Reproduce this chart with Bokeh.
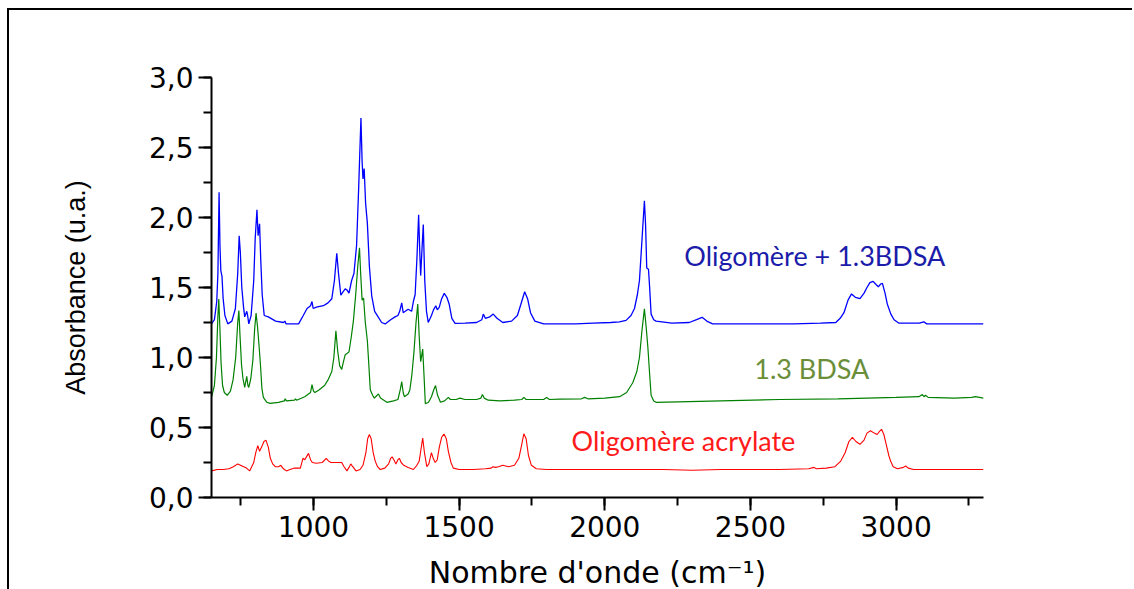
from bokeh.plotting import figure
from bokeh.models import Range1d, SingleIntervalTicker, CustomJSTickFormatter, Label
from bokeh.embed import file_html
from bokeh.resources import INLINE

# ---- data ----
blue_x = [650, 660, 668, 672, 676, 679, 682, 686, 690, 696, 706, 720, 732, 740, 745, 749, 754, 760, 764, 771,
          774, 778, 786, 795, 800, 806, 810, 815, 819, 824, 831, 845, 870, 897, 902, 906, 949, 965, 978, 990,
          995, 999, 1010, 1034, 1050, 1063, 1072, 1080, 1086, 1094, 1102, 1109, 1116, 1122, 1131, 1139, 1148,
          1155, 1163, 1167, 1170, 1174, 1179, 1185, 1192, 1200, 1210, 1222, 1234, 1246, 1265, 1280, 1290, 1296,
          1303, 1308, 1315, 1325, 1337, 1343, 1349, 1355, 1361, 1365, 1368, 1372, 1377, 1382, 1388, 1394, 1405,
          1412, 1420, 1425, 1432, 1440, 1449, 1458, 1466, 1475, 1486, 1520, 1560, 1578, 1583, 1590, 1605, 1617,
          1630, 1650, 1680, 1700, 1712, 1725, 1735, 1745, 1760, 1790, 1845, 1900, 1960, 2020, 2050, 2073, 2090,
          2102, 2112, 2119, 2128, 2136, 2140, 2144, 2150, 2154, 2159, 2168, 2176, 2230, 2290, 2315, 2334, 2350,
          2370, 2500, 2650, 2740, 2793, 2808, 2821, 2835, 2847, 2860, 2876, 2890, 2900, 2910, 2921, 2932, 2939,
          2947, 2953, 2962, 2970, 2982, 2993, 3010, 3080, 3095, 3105, 3200, 3300]
blue_y = [1.24, 1.27, 1.40, 1.60, 2.18, 1.80, 1.62, 1.58, 1.42, 1.30, 1.24, 1.26, 1.35, 1.60, 1.87, 1.75, 1.50,
          1.36, 1.29, 1.33, 1.30, 1.24, 1.30, 1.55, 1.85, 2.055, 1.87, 1.955, 1.70, 1.45, 1.30, 1.29, 1.26, 1.25,
          1.26, 1.24, 1.24, 1.30, 1.35, 1.37, 1.40, 1.35, 1.36, 1.37, 1.39, 1.42, 1.55, 1.745, 1.60, 1.445, 1.47,
          1.49, 1.48, 1.46, 1.55, 1.60, 1.80, 2.20, 2.71, 2.40, 2.275, 2.35, 2.10, 1.96, 1.65, 1.44, 1.33, 1.29,
          1.25, 1.24, 1.27, 1.29, 1.30, 1.33, 1.39, 1.32, 1.33, 1.345, 1.33, 1.40, 1.45, 1.70, 2.02, 1.75, 1.585,
          1.75, 1.95, 1.55, 1.33, 1.25, 1.30, 1.34, 1.37, 1.34, 1.36, 1.42, 1.458, 1.43, 1.38, 1.28, 1.244, 1.245,
          1.25, 1.27, 1.31, 1.28, 1.29, 1.31, 1.28, 1.25, 1.26, 1.30, 1.38, 1.47, 1.42, 1.32, 1.26, 1.24, 1.24,
          1.24, 1.245, 1.25, 1.255, 1.265, 1.30, 1.35, 1.45, 1.55, 1.85, 2.12, 1.95, 1.64, 1.63, 1.50, 1.31, 1.27,
          1.26, 1.245, 1.25, 1.27, 1.287, 1.26, 1.24, 1.24, 1.24, 1.245, 1.25, 1.28, 1.32, 1.41, 1.454, 1.43, 1.42,
          1.46, 1.50, 1.535, 1.544, 1.52, 1.505, 1.525, 1.53, 1.46, 1.38, 1.31, 1.27, 1.245, 1.245, 1.255, 1.24,
          1.24, 1.24]

green_x = [650, 660, 667, 672, 675, 679, 683, 688, 694, 704, 715, 724, 733, 740, 744, 748, 753, 758, 764, 771,
           775, 778, 785, 792, 798, 803, 808, 813, 818, 823, 828, 840, 851, 880, 900, 903, 907, 935, 938, 942,
           970, 990, 995, 1000, 1005, 1020, 1038, 1050, 1063, 1070, 1077, 1083, 1090, 1097, 1103, 1109, 1116,
           1122, 1130, 1137, 1145, 1152, 1158, 1162, 1167, 1172, 1178, 1185, 1190, 1195, 1203, 1209, 1216, 1223,
           1230, 1252, 1275, 1290, 1298, 1303, 1308, 1312, 1325, 1331, 1338, 1345, 1352, 1358, 1363, 1368, 1372,
           1375, 1380, 1384, 1395, 1405, 1413, 1419, 1426, 1436, 1450, 1463, 1470, 1490, 1503, 1520, 1560, 1575,
           1580, 1586, 1600, 1640, 1690, 1715, 1722, 1730, 1790, 1800, 1810, 1845, 1920, 1931, 1942, 2000, 2051,
           2075, 2096, 2110, 2119, 2128, 2136, 2142, 2148, 2154, 2159, 2168, 2176, 2400, 2600, 2800, 3000, 3078,
           3090, 3096, 3101, 3110, 3200, 3260, 3272, 3300]
green_y = [0.715, 0.80, 1.00, 1.30, 1.418, 1.20, 0.953, 0.80, 0.75, 0.73, 0.76, 0.84, 1.00, 1.25, 1.335, 1.15,
           0.95, 0.85, 0.786, 0.866, 0.80, 0.786, 0.85, 0.98, 1.20, 1.318, 1.22, 1.09, 0.95, 0.78, 0.715, 0.68,
           0.672, 0.68, 0.69, 0.705, 0.69, 0.695, 0.705, 0.695, 0.72, 0.75, 0.806, 0.76, 0.75, 0.77, 0.80, 0.84,
           0.90, 1.00, 1.19, 1.05, 0.94, 0.915, 0.97, 1.02, 1.03, 1.04, 1.15, 1.26, 1.45, 1.65, 1.783, 1.60, 1.41,
           1.425, 1.25, 1.12, 0.95, 0.77, 0.73, 0.71, 0.725, 0.74, 0.71, 0.68, 0.69, 0.70, 0.77, 0.827, 0.75, 0.72,
           0.74, 0.77, 0.88, 1.04, 1.25, 1.382, 1.15, 0.97, 1.02, 1.06, 0.85, 0.67, 0.68, 0.72, 0.77, 0.80, 0.73,
           0.68, 0.69, 0.715, 0.70, 0.70, 0.71, 0.70, 0.70, 0.71, 0.735, 0.71, 0.695, 0.69, 0.695, 0.70, 0.715,
           0.70, 0.70, 0.715, 0.70, 0.703, 0.705, 0.715, 0.705, 0.71, 0.72, 0.75, 0.82, 0.90, 1.00, 1.20, 1.347,
           1.22, 1.07, 0.88, 0.73, 0.69, 0.68, 0.69, 0.70, 0.705, 0.715, 0.72, 0.735, 0.72, 0.73, 0.715, 0.71,
           0.715, 0.72, 0.71]

red_x = [650, 670, 690, 710, 725, 740, 755, 770, 781, 795, 802, 809, 815, 822, 830, 837, 845, 852, 860, 869, 880,
         888, 897, 907, 920, 935, 955, 964, 970, 976, 983, 990, 996, 1010, 1030, 1044, 1052, 1060, 1080, 1097,
         1105, 1115, 1122, 1128, 1135, 1146, 1160, 1170, 1180, 1186, 1192, 1198, 1205, 1212, 1220, 1229, 1245,
         1258, 1265, 1270, 1276, 1283, 1290, 1295, 1301, 1310, 1325, 1343, 1355, 1363, 1368, 1375, 1381, 1389,
         1396, 1405, 1411, 1418, 1425, 1432, 1440, 1448, 1456, 1463, 1472, 1480, 1500, 1550, 1590, 1610, 1616,
         1625, 1635, 1650, 1660, 1670, 1690, 1705, 1715, 1722, 1730, 1738, 1748, 1765, 1800, 1900, 2000, 2100,
         2200, 2300, 2400, 2500, 2600, 2700, 2718, 2726, 2760, 2790, 2810, 2825, 2838, 2850, 2862, 2876, 2890,
         2900, 2912, 2925, 2935, 2942, 2950, 2958, 2966, 2975, 2981, 2990, 3005, 3025, 3033, 3042, 3060, 3200,
         3300]
red_y = [0.19, 0.20, 0.20, 0.205, 0.22, 0.24, 0.225, 0.21, 0.19, 0.25, 0.32, 0.37, 0.33, 0.36, 0.40, 0.41, 0.36,
         0.28, 0.24, 0.22, 0.22, 0.23, 0.205, 0.19, 0.20, 0.21, 0.21, 0.28, 0.27, 0.29, 0.315, 0.27, 0.25, 0.245,
         0.25, 0.28, 0.26, 0.25, 0.25, 0.25, 0.22, 0.19, 0.215, 0.24, 0.22, 0.19, 0.20, 0.23, 0.32, 0.42, 0.45,
         0.42, 0.32, 0.26, 0.22, 0.20, 0.21, 0.24, 0.28, 0.29, 0.27, 0.24, 0.27, 0.28, 0.25, 0.23, 0.215, 0.20,
         0.23, 0.26, 0.33, 0.425, 0.32, 0.22, 0.24, 0.32, 0.28, 0.25, 0.27, 0.36, 0.43, 0.453, 0.42, 0.33, 0.25,
         0.21, 0.20, 0.20, 0.205, 0.21, 0.22, 0.215, 0.22, 0.23, 0.225, 0.22, 0.23, 0.28, 0.38, 0.455, 0.42, 0.30,
         0.23, 0.205, 0.20, 0.20, 0.20, 0.20, 0.20, 0.195, 0.20, 0.20, 0.20, 0.205, 0.215, 0.205, 0.21, 0.22, 0.26,
         0.32, 0.40, 0.43, 0.40, 0.38, 0.41, 0.46, 0.477, 0.46, 0.45, 0.47, 0.487, 0.45, 0.38, 0.30, 0.26, 0.22,
         0.205, 0.215, 0.225, 0.21, 0.20, 0.20, 0.20]

series_names = ["Oligomère + 1.3BDSA", "1.3 BDSA", "Oligomère acrylate"]
x_label = "Nombre d'onde (cm⁻¹)"
y_label = "Absorbance (u.a.)"

# ---- figure ----
p = figure(width=1125, height=590, output_backend="svg", toolbar_location=None,
           x_range=Range1d(650, 3300), y_range=Range1d(0, 3.0),
           min_border_left=202, min_border_right=151, min_border_top=67, min_border_bottom=103,
           styles={"border-top": "2px solid #000", "border-left": "2px solid #000",
                   "margin-top": "8px", "margin-left": "7px"})
p.outline_line_color = None
p.xgrid.visible = False
p.ygrid.visible = False
p.background_fill_color = "white"
p.border_fill_color = "white"

p.line(blue_x, blue_y, line_color="#0000ff", line_width=1.3)
p.line(green_x, green_y, line_color="#008000", line_width=1.2)
p.line(red_x, red_y, line_color="#ff0000", line_width=1.1)

for ax in (p.xaxis[0], p.yaxis[0]):
    ax.axis_line_width = 2
    ax.axis_line_color = "black"
    ax.major_tick_line_width = 2
    ax.minor_tick_line_width = 2
    ax.major_tick_out = 13
    ax.major_tick_in = 0
    ax.minor_tick_out = 8
    ax.minor_tick_in = 0
    ax.major_label_text_font = "DejaVu Sans"
    ax.major_label_text_font_size = "28px"
    ax.major_label_text_color = "black"
    ax.major_label_standoff = 5
    ax.axis_label_text_font_style = "normal"
    ax.axis_label_text_color = "black"

p.xaxis[0].ticker = SingleIntervalTicker(interval=500, num_minor_ticks=2)
p.yaxis[0].ticker = SingleIntervalTicker(interval=0.5, num_minor_ticks=2)
p.xaxis[0].formatter = CustomJSTickFormatter(code="return tick.toFixed(0);")
p.yaxis[0].formatter = CustomJSTickFormatter(code="return tick.toFixed(1).replace('.', ',');")

p.xaxis[0].axis_label = x_label
p.xaxis[0].axis_label_text_font = "DejaVu Sans"
p.xaxis[0].axis_label_text_font_size = "30px"
p.xaxis[0].axis_label_standoff = 15

p.yaxis[0].axis_label = y_label
p.yaxis[0].axis_label_text_font = "Liberation Sans"
p.yaxis[0].axis_label_text_font_size = "27px"
p.yaxis[0].axis_label_standoff = 55

label_font = "Lato"
p.add_layout(Label(x=2273, y=1.728, text=series_names[0], text_color="#1c1caa",
                   text_font=label_font, text_font_size="27px", text_baseline="middle"))
p.add_layout(Label(x=2513, y=0.92, text=series_names[1], text_color="#6b8e3b",
                   text_font=label_font, text_font_size="27px", text_baseline="middle"))
p.add_layout(Label(x=1886, y=0.405, text=series_names[2], text_color="#ff1a1a",
                   text_font=label_font, text_font_size="27px", text_baseline="middle"))

open("out.html", "w").write(file_html(p, INLINE))
